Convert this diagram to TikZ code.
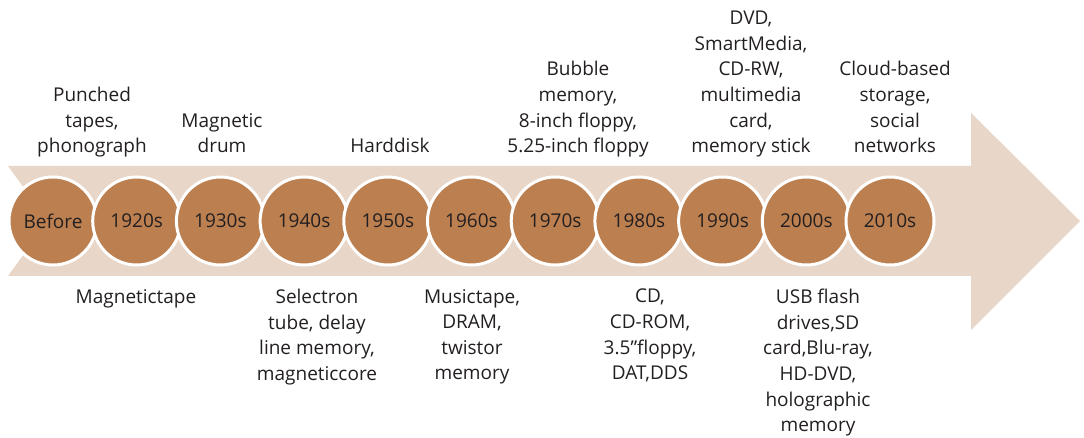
\documentclass[tikz,border=0pt]{standalone}
\usepackage{fontspec}
\setmainfont{Open Sans}
\definecolor{band}{HTML}{E8D6C8}
\definecolor{disc}{HTML}{BC7F4F}
\definecolor{ink}{HTML}{231F20}
\begin{document}
\begin{tikzpicture}[x=1pt,y=-1pt,
  era/.style={circle,fill=disc,draw=white,line width=3pt,minimum size=88pt,inner sep=0pt,font=\fontsize{19}{22}\selectfont,text=ink},
  toplab/.style={anchor=south,align=center,inner sep=0pt,text=ink,font=\fontsize{19}{25.6}\selectfont,text depth=5pt},
  botlab/.style={anchor=north,align=center,inner sep=0pt,text=ink,font=\fontsize{19}{25.6}\selectfont}]
\useasboundingbox (0,0) rectangle (1084,438);
\fill[band] (8,166) -- (971,166) -- (971,113) -- (1080,221) -- (971,330) -- (971,276) -- (8,276) -- (48,221) -- cycle;
\foreach \lab [count=\i from 0] in {Before,1920s,1930s,1940s,1950s,1960s,1970s,1980s,1990s,2000s,2010s}{
  \node[era] (c\i) at ({53+83.7*\i},221) {\lab};
}
\node[toplab] (t0) at (92,158) {Punched\\tapes,\\phonograph};
\node[toplab] (t2) at (222,158) {Magnetic\\drum};
\node[toplab] (t4) at (390,158) {Harddisk};
\node[toplab] (t6) at (578,158) {Bubble\\memory,\\8-inch floppy,\\5.25-inch floppy};
\node[toplab] (t8) at (751,158) {DVD,\\SmartMedia,\\CD-RW,\\multimedia\\card,\\memory stick};
\node[toplab] (t10) at (895,158) {Cloud-based\\storage,\\social\\networks};
\node[botlab] (b1) at (136,289) {Magnetictape};
\node[botlab] (b3) at (317,289) {Selectron\\tube, delay\\line memory,\\magneticcore};
\node[botlab] (b5) at (472,289) {Musictape,\\DRAM,\\twistor\\memory};
\node[botlab] (b7) at (650,289) {CD,\\CD-ROM,\\3.5\textquotedblright floppy,\\DAT,DDS};
\node[botlab] (b9) at (818,289) {USB flash\\drives,SD\\card,Blu-ray,\\HD-DVD,\\holographic\\memory};
\end{tikzpicture}
\end{document}
